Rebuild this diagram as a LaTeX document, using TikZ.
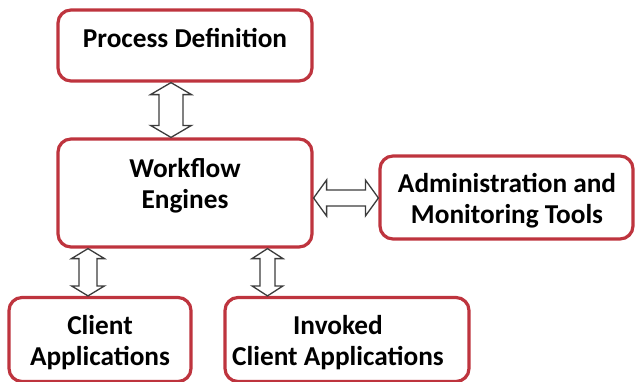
\documentclass[tikz,border=0pt]{standalone}
\usepackage{fontspec}
\setmainfont{Carlito}
\usetikzlibrary{calc}

\definecolor{boxred}{RGB}{190,52,62}
\definecolor{arrowgray}{RGB}{60,60,60}

\tikzset{
  box/.style={draw=boxred, line width=3.2pt, rounded corners=13pt, fill=white,
              rectangle, inner sep=0pt},
  caption/.style={font=\fontsize{27.3}{31}\selectfont\bfseries, align=center,
                  text=black, inner sep=0pt},
  barrow/.style={draw=arrowgray, line width=1.3pt, fill=white, line join=miter},
}

% outlined two-headed block arrow from #1 to #2;
% #3 head half-width, #4 shaft half-width, #5 head length
\newcommand\blockarrow[5]{%
  \coordinate (ba1) at ($(#1)!#5!(#2)$);
  \coordinate (ba2) at ($(#2)!#5!(#1)$);
  \draw[barrow] (#1) -- ($(ba1)!#3!90:(#2)$) -- ($(ba1)!#4!90:(#2)$)
    -- ($(ba2)!#4!-90:(#1)$) -- ($(ba2)!#3!-90:(#1)$) -- (#2)
    -- ($(ba2)!#3!90:(#1)$) -- ($(ba2)!#4!90:(#1)$)
    -- ($(ba1)!#4!-90:(#2)$) -- ($(ba1)!#3!-90:(#2)$) -- cycle;}

\begin{document}
\begin{tikzpicture}[x=1pt, y=-1pt]
  \useasboundingbox (0,0) rectangle (635,381);
  \clip (0,0) rectangle (635,381);

  % boxes
  \node[box, minimum width=254pt, minimum height=71pt]  (pd)  at (185,45.5) {};
  \node[box, minimum width=254pt, minimum height=108pt] (we)  at (185,193) {};
  \node[box, minimum width=253pt, minimum height=83pt]  (adm) at (506.5,197.5) {};
  \node[box, minimum width=182pt, minimum height=84pt]  (cli) at (100,339.5) {};
  \node[box, minimum width=244pt, minimum height=84pt]  (inv) at (347,339.5) {};

  % captions
  \node[caption] (pdt)  at (185,38)  {Process Definition};
  \node[caption] (wet)  at (185,186) {Workflow\\Engines};
  \node[caption] (admt) at (507,201) {Administration and\\Monitoring Tools};
  \node[caption] (clit) at (100,343) {Client\\Applications};
  \node[caption] (invt) at (338,343) {Invoked\\Client Applications};

  % connector end points on the box borders
  \coordinate (pdS)  at (pd.south -| 171,0);
  \coordinate (weN)  at (we.north -| 171,0);
  \coordinate (weE)  at (we.east |- 0,198);
  \coordinate (admW) at (adm.west |- 0,198);
  \coordinate (weS1) at (we.south -| 88,0);
  \coordinate (cliN) at (cli.north -| 88,0);
  \coordinate (weS2) at (we.south -| 267.5,0);
  \coordinate (invN) at (inv.north -| 267.5,0);

  % connectors
  \blockarrow{pdS}{weN}{20.5pt}{12pt}{12pt}
  \blockarrow{weE}{admW}{18pt}{8pt}{13pt}
  \blockarrow{weS1}{cliN}{16.5pt}{9pt}{10pt}
  \blockarrow{weS2}{invN}{15.5pt}{7.5pt}{10pt}
\end{tikzpicture}
\end{document}
